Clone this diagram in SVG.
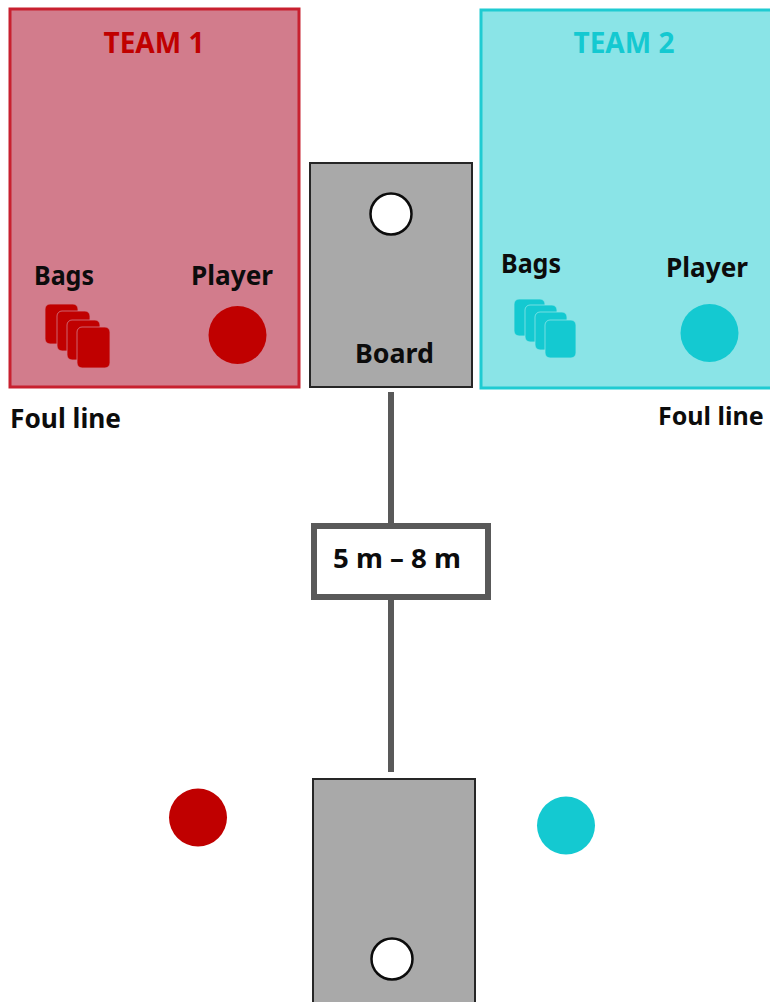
<svg xmlns="http://www.w3.org/2000/svg" width="770" height="1002" viewBox="0 0 770 1002">
<style>
text{font-family:"Noto Sans","Open Sans","Liberation Sans",sans-serif;font-weight:700;font-size:27px;fill:#0c0c0c}
.board{fill:#a9a9a9;stroke:#262626;stroke-width:2}
.hole{fill:#fff;stroke:#0c0c0c;stroke-width:2.500}
.red{fill:#c00000}
.cyan{fill:#14c9d1}
.rc{fill:#c00000;stroke:#d27c8c;stroke-width:.8}
.cc{fill:#14c9d1;stroke:#8ae4e7;stroke-width:.8}
.line{stroke:#595959;stroke-width:6;fill:none}
</style>
<rect width="770" height="1002" fill="#fff"/>
<g id="team1">
<rect x="10" y="9" width="289" height="378" fill="#d27c8c" stroke="#c8202f" stroke-width="3"/>
<text x="154" y="53" text-anchor="middle" textLength="101" lengthAdjust="spacingAndGlyphs" style="fill:#c00000;font-size:29px">TEAM 1</text>
<text x="34" y="285" textLength="60" lengthAdjust="spacingAndGlyphs">Bags</text>
<text x="191" y="285" textLength="82" lengthAdjust="spacingAndGlyphs">Player</text>
<rect x="45" y="304" width="33" height="40" rx="5" class="rc"/>
<rect x="57" y="311" width="33" height="40" rx="5" class="rc"/>
<rect x="67" y="320" width="33" height="40" rx="5" class="rc"/>
<rect x="77" y="327" width="33" height="41" rx="5" class="rc"/>
<circle cx="237.500" cy="335" r="29" class="red"/>
<text x="10" y="428" textLength="111" lengthAdjust="spacingAndGlyphs">Foul line</text>
</g>
<g id="team2">
<rect x="481" y="10" width="291" height="378" fill="#8ae4e7" stroke="#1fcbd2" stroke-width="3"/>
<text x="624" y="53" text-anchor="middle" textLength="101" lengthAdjust="spacingAndGlyphs" style="fill:#14c9d1;font-size:29px">TEAM 2</text>
<text x="501" y="273" textLength="60" lengthAdjust="spacingAndGlyphs">Bags</text>
<text x="666" y="277" textLength="82" lengthAdjust="spacingAndGlyphs">Player</text>
<rect x="514" y="299" width="31" height="37" rx="5" class="cc"/>
<rect x="525" y="305" width="32" height="37" rx="5" class="cc"/>
<rect x="535" y="312" width="32" height="38" rx="5" class="cc"/>
<rect x="545" y="320" width="31" height="38" rx="5" class="cc"/>
<circle cx="709.500" cy="333" r="29" class="cyan"/>
<text x="658" y="425" style="font-size:25px">Foul line</text>
</g>
<g id="board-top">
<rect x="310" y="163" width="162" height="224" class="board"/>
<circle cx="391" cy="214" r="20.500" class="hole"/>
<text x="355" y="363" textLength="79" lengthAdjust="spacingAndGlyphs">Board</text>
</g>
<g id="connectors">
<path d="M391 392V525M391 598V772" class="line"/>
</g>
<g id="distance">
<rect x="314" y="526" width="174" height="71" fill="#fff" stroke="#595959" stroke-width="6"/>
<text x="333" y="568" textLength="128" lengthAdjust="spacingAndGlyphs">5 m – 8 m</text>
</g>
<g id="board-bottom">
<rect x="313" y="779" width="162" height="224" class="board"/>
<circle cx="392" cy="959" r="20.500" class="hole"/>
</g>
<g id="player-red"><circle cx="198" cy="817.500" r="29" class="red"/></g>
<g id="player-cyan"><circle cx="566" cy="825.500" r="29" class="cyan"/></g>
</svg>
